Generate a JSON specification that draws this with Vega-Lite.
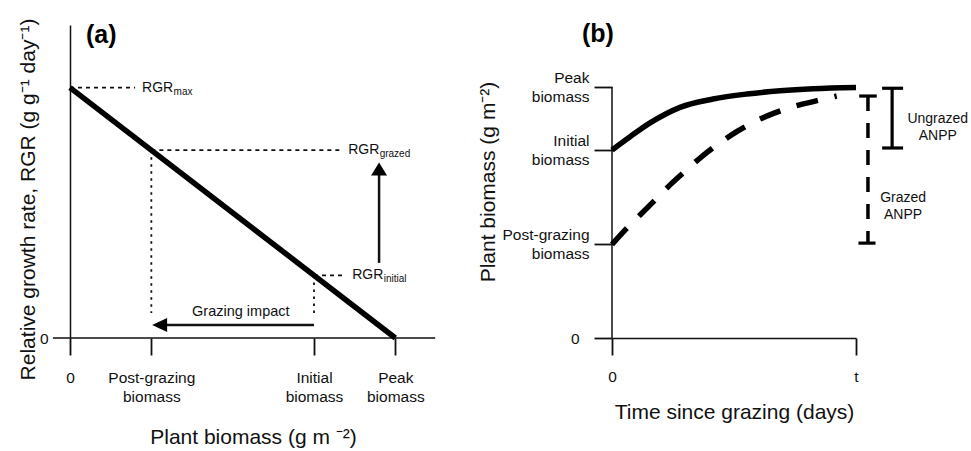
{
  "$schema": "https://vega.github.io/schema/vega-lite/v6.json",
  "padding": {"left": 17, "top": 18, "right": 0, "bottom": 0},
  "bounds": "flush",
  "spacing": 176,
  "config": {
    "font": "Liberation Sans",
    "view": {"stroke": null},
    "axis": {
      "grid": false,
      "domainColor": "#111",
      "tickColor": "#111",
      "labelColor": "#111",
      "titleColor": "#111",
      "labelFont": "Liberation Sans",
      "titleFont": "Liberation Sans",
      "titleFontWeight": "normal",
      "labelFontSize": 15.5,
      "titleFontSize": 21,
      "domainWidth": 1.5,
      "tickWidth": 1.8,
      "labelOverlap": false,
      "labelFlush": false,
      "labelBound": false,
      "labelLineHeight": 19
    },
    "text": {"font": "Liberation Sans", "color": "#111"}
  },
  "datasets": {
    "axisA": [{"x": -0.21, "x2": 4.49, "y": 0, "y2": 0}],
    "lineA": [{"x": 0, "y": 1}, {"x": 4, "y": 0}],
    "dotH": [
      {"x": 0, "x2": 0.8, "y": 1, "y2": 1},
      {"x": 1, "x2": 3.36, "y": 0.75, "y2": 0.75},
      {"x": 3, "x2": 3.36, "y": 0.25, "y2": 0.25}
    ],
    "dotV": [
      {"x": 1, "x2": 1, "y": 0.75, "y2": 0.1},
      {"x": 3, "x2": 3, "y": 0.25, "y2": 0.1}
    ],
    "shaftA": [
      {"x": 3.8, "x2": 3.8, "y": 0.3, "y2": 0.66},
      {"x": 1.17, "x2": 3.0, "y": 0.052, "y2": 0.052}
    ],
    "headA": [
      {"x": 3.8, "y": 0.701, "dir": "up"},
      {"x": 1.01, "y": 0.052, "dir": "left"}
    ],
    "rgrA": [
      {"x": 0.886, "y": 1, "main": "RGR", "sub": "max"},
      {"x": 3.42, "y": 0.75, "main": "RGR", "sub": "grazed"},
      {"x": 3.47, "y": 0.25, "main": "RGR", "sub": "initial"}
    ],
    "textA": [{"x": 2.1, "y": 0.104, "label": "Grazing impact"}],
    "tagA": [{"x": 0.197, "y": 1.179, "label": "(a)"}],
    "axisB": [{"x": 0, "x2": 0, "y": 0, "y2": 1}],
    "solidB": [
      {"x": 0, "y": 0.749},
      {"x": 0.74, "y": 0.802},
      {"x": 1.56, "y": 0.857},
      {"x": 2.79, "y": 0.919},
      {"x": 4.14, "y": 0.952},
      {"x": 5.53, "y": 0.972},
      {"x": 6.89, "y": 0.985},
      {"x": 8.24, "y": 0.993},
      {"x": 10.0, "y": 0.998}
    ],
    "dashB": [
      {"x": 0, "y": 0.373},
      {"x": 0.6, "y": 0.437},
      {"x": 1.15, "y": 0.49},
      {"x": 1.83, "y": 0.556},
      {"x": 2.38, "y": 0.61},
      {"x": 3.13, "y": 0.676},
      {"x": 3.68, "y": 0.723},
      {"x": 4.43, "y": 0.778},
      {"x": 5.11, "y": 0.822},
      {"x": 5.93, "y": 0.866},
      {"x": 6.62, "y": 0.895},
      {"x": 7.5, "y": 0.924},
      {"x": 8.25, "y": 0.942},
      {"x": 9.21, "y": 0.964}
    ],
    "barsB": [
      {"x": 11.48, "x2": 11.48, "y": 0.757, "y2": 0.995},
      {"x": 11.07, "x2": 11.93, "y": 0.995, "y2": 0.995},
      {"x": 11.07, "x2": 11.93, "y": 0.757, "y2": 0.757},
      {"x": 10.13, "x2": 10.85, "y": 0.964, "y2": 0.964},
      {"x": 10.1, "x2": 10.8, "y": 0.378, "y2": 0.378}
    ],
    "dashBar": [{"x": 10.49, "x2": 10.49, "y": 0.964, "y2": 0.378}],
    "textB": [
      {"x": 13.35, "y": 0.873, "label": "Ungrazed\nANPP"},
      {"x": 11.93, "y": 0.558, "label": "Grazed\nANPP"}
    ],
    "tagB": [{"x": -1.23, "y": 1.179, "label": "(b)"}]
  },
  "hconcat": [
    {
      "width": 366,
      "height": 313,
      "encoding": {
        "x": {
          "field": "x", "type": "quantitative",
          "scale": {"domain": [0, 4.5], "nice": false, "zero": false},
          "axis": {
            "values": [0, 1, 3, 4],
            "domain": false,
            "tickSize": 17,
            "labelPadding": 15,
            "labelExpr": "split(datum.value == 1 ? 'Post-grazing|biomass' : datum.value == 3 ? 'Initial|biomass' : datum.value == 4 ? 'Peak|biomass' : '0', '|')",
            "title": "Plant biomass (g m ⁻²)",
            "titlePadding": 22
          }
        },
        "y": {
          "field": "y", "type": "quantitative",
          "scale": {"domain": [0, 1.25], "nice": false},
          "axis": {
            "values": [0],
            "ticks": false,
            "domain": true,
            "labelPadding": 22,
            "title": "Relative growth rate, RGR (g g⁻¹ day⁻¹)",
            "titlePadding": 1,
            "titleY": 174
          }
        }
      },
      "layer": [
        {"data": {"name": "axisA"}, "mark": {"type": "rule", "strokeWidth": 1.5, "color": "#111"},
         "encoding": {"x2": {"field": "x2"}, "y2": {"field": "y2"}}},
        {"data": {"name": "dotH"}, "mark": {"type": "rule", "strokeWidth": 1.8, "color": "#111", "strokeDash": [4, 4]},
         "encoding": {"x2": {"field": "x2"}, "y2": {"field": "y2"}}},
        {"data": {"name": "dotV"}, "mark": {"type": "rule", "strokeWidth": 1.8, "color": "#111", "strokeDash": [2.5, 4.5]},
         "encoding": {"x2": {"field": "x2"}, "y2": {"field": "y2"}}},
        {"data": {"name": "lineA"}, "mark": {"type": "line", "strokeWidth": 5.5, "color": "#000"}, "encoding": {}},
        {"data": {"name": "shaftA"}, "mark": {"type": "rule", "strokeWidth": 2.5, "color": "#111"},
         "encoding": {"x2": {"field": "x2"}, "y2": {"field": "y2"}}},
        {"data": {"name": "headA"}, "mark": {"type": "point", "filled": true, "opacity": 1, "size": 256, "color": "#000", "strokeWidth": 0},
         "encoding": {"shape": {"field": "dir", "type": "nominal", "legend": null,
           "scale": {"domain": ["up", "left"], "range": ["M0,0L1,1.625L-1,1.625Z", "M0,0L1.875,-0.875L1.875,0.875Z"]}}}},
        {"data": {"name": "rgrA"}, "mark": {"type": "text", "fontSize": 14, "align": "left", "baseline": "middle"},
         "encoding": {"text": {"field": "main"}}},
        {"data": {"name": "rgrA"}, "mark": {"type": "text", "fontSize": 10, "align": "left", "baseline": "middle", "dx": 31.5, "dy": 4},
         "encoding": {"text": {"field": "sub"}}},
        {"data": {"name": "textA"}, "mark": {"type": "text", "fontSize": 14.5, "align": "center", "baseline": "middle"},
         "encoding": {"text": {"field": "label"}}},
        {"data": {"name": "tagA"}, "mark": {"type": "text", "fontSize": 25, "fontWeight": "bold", "align": "left", "baseline": "alphabetic", "color": "#000"},
         "encoding": {"text": {"field": "label"}}}
      ]
    },
    {
      "width": 244,
      "height": 313,
      "encoding": {
        "x": {
          "field": "x", "type": "quantitative",
          "scale": {"domain": [0, 10], "nice": false, "zero": false},
          "axis": {
            "values": [0, 10],
            "domain": true,
            "tickSize": 17,
            "labelPadding": 14,
            "labelExpr": "datum.value == 10 ? 't' : '0'",
            "title": "Time since grazing (days)",
            "titlePadding": 17
          }
        },
        "y": {
          "field": "y", "type": "quantitative",
          "scale": {"domain": [0, 1.247], "nice": false},
          "axis": {
            "values": [0, 0.375, 0.75, 1],
            "domain": false,
            "tickSize": 18,
            "labelPadding": {"condition": {"test": "datum.value == 0", "value": 15}, "value": 5},
            "labelOffset": {"condition": {"test": "datum.value == 0", "value": 0}, "value": -9.5},
            "labelExpr": "split(datum.value == 1 ? 'Peak|biomass' : datum.value == 0.75 ? 'Initial|biomass' : datum.value == 0.375 ? 'Post-grazing|biomass' : '0', '|')",
            "title": "Plant biomass (g m⁻²)",
            "titlePadding": 3
          }
        }
      },
      "layer": [
        {"data": {"name": "axisB"}, "mark": {"type": "rule", "strokeWidth": 1.5, "color": "#111"},
         "encoding": {"x2": {"field": "x2"}, "y2": {"field": "y2"}}},
        {"data": {"name": "solidB"}, "mark": {"type": "line", "strokeWidth": 5.5, "color": "#000", "interpolate": "monotone"}, "encoding": {}},
        {"data": {"name": "dashB"}, "mark": {"type": "line", "strokeWidth": 5.5, "color": "#000", "interpolate": "monotone", "strokeDash": [22, 17], "strokeCap": "butt"}, "encoding": {}},
        {"data": {"name": "barsB"}, "mark": {"type": "rule", "strokeWidth": 3.2, "color": "#000"},
         "encoding": {"x2": {"field": "x2"}, "y2": {"field": "y2"}}},
        {"data": {"name": "dashBar"}, "mark": {"type": "rule", "strokeWidth": 3.5, "color": "#000", "strokeDash": [15, 12]},
         "encoding": {"x2": {"field": "x2"}, "y2": {"field": "y2"}}},
        {"data": {"name": "textB"}, "mark": {"type": "text", "fontSize": 14, "align": "center", "baseline": "middle", "lineBreak": "\n", "lineHeight": 17},
         "encoding": {"text": {"field": "label"}}},
        {"data": {"name": "tagB"}, "mark": {"type": "text", "fontSize": 25, "fontWeight": "bold", "align": "left", "baseline": "alphabetic", "color": "#000"},
         "encoding": {"text": {"field": "label"}}}
      ]
    }
  ]
}
